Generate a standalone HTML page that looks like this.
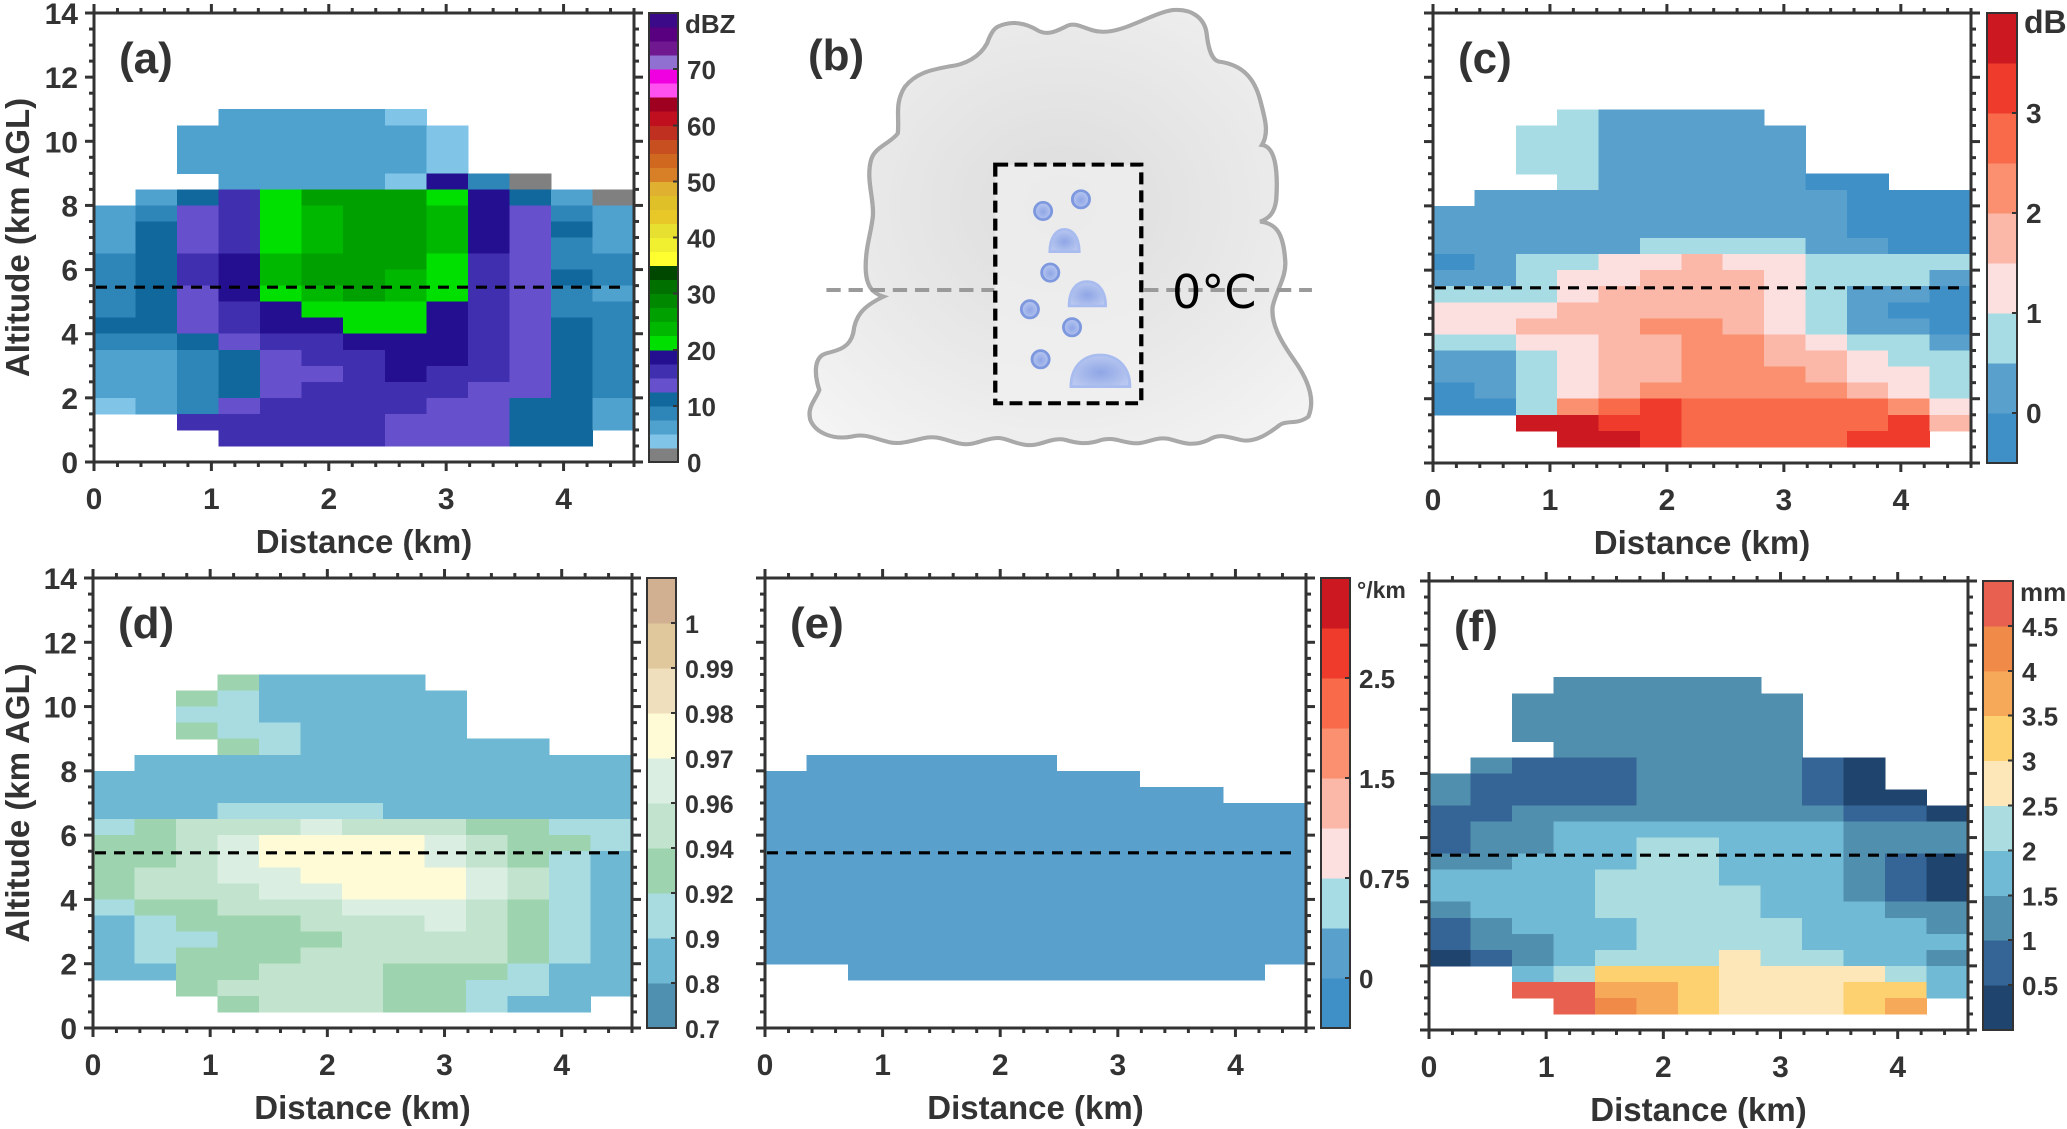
<!DOCTYPE html>
<html><head><meta charset="utf-8"><title>Radar panels</title>
<style>
html,body{margin:0;padding:0;background:#fff;}
svg{display:block;font-family:"Liberation Sans",Arial,sans-serif;}
</style></head>
<body>
<svg id="fig" xmlns="http://www.w3.org/2000/svg" width="2067" height="1129" viewBox="0 0 2067 1129">
<g id="panel-b">
  <defs>
    <radialGradient id="cloudGrad" cx="0.5" cy="0.45" r="0.75">
      <stop offset="0" stop-color="#dcdcdc"/>
      <stop offset="0.6" stop-color="#ebebeb"/>
      <stop offset="1" stop-color="#f6f6f6"/>
    </radialGradient>
    <radialGradient id="dropGrad" cx="0.5" cy="0.55" r="0.55">
      <stop offset="0" stop-color="#8fa6e6"/>
      <stop offset="1" stop-color="#b9c8f0"/>
    </radialGradient>
    <clipPath id="cloudClip"><path id="cloudPathClip" d=""/></clipPath>
  </defs>
  <g transform="translate(780,0) scale(0.357,0.3333)">
    <path id="cloudShape" d="M610,80 C650,60 690,70 720,90 C750,110 780,90 800,80 C830,60 860,95 900,95 C960,100 1040,40 1100,30 C1160,25 1190,60 1195,100 C1200,150 1210,180 1230,185 C1300,195 1330,240 1345,300 C1360,360 1370,400 1350,435 C1390,440 1395,520 1390,600 C1385,640 1370,655 1345,665 C1390,670 1410,700 1415,780 C1420,830 1390,870 1380,920 C1375,970 1400,1020 1440,1080 C1480,1140 1500,1200 1480,1250 C1450,1275 1420,1260 1400,1275 C1370,1300 1330,1330 1290,1320 C1250,1310 1230,1300 1200,1320 C1160,1340 1130,1330 1100,1320 C1060,1305 1030,1330 1000,1330 C960,1330 940,1310 900,1320 C860,1335 830,1330 800,1320 C760,1310 730,1340 690,1335 C650,1330 630,1310 600,1315 C560,1320 540,1340 500,1330 C460,1320 440,1305 400,1315 C360,1325 330,1335 300,1325 C260,1315 240,1300 200,1310 C150,1320 100,1300 85,1260 C75,1220 100,1200 110,1170 C95,1120 95,1070 130,1060 C170,1050 195,1040 205,1000 C210,950 230,920 290,890 C260,880 240,860 240,800 C240,740 255,700 260,650 C265,600 240,540 255,480 C265,440 310,430 330,400 C335,350 320,310 350,260 C380,220 420,210 470,200 C520,195 560,170 580,130 C590,100 600,85 610,80 Z" fill="url(#cloudGrad)" stroke="#a8a8a8" stroke-width="12"/>
    <use href="#cloudShape" fill="none" stroke="#d0d0d0" stroke-width="30" clip-path="url(#cloudClip)"/>
    <line x1="130" y1="870" x2="600" y2="870" stroke="#9a9a9a" stroke-width="12" stroke-dasharray="40 22"/>
    <line x1="1020" y1="870" x2="1490" y2="870" stroke="#9a9a9a" stroke-width="12" stroke-dasharray="40 22"/>
    <rect x="603" y="494" width="409" height="716" fill="#f1f1f1" fill-opacity="0.7" stroke="#000" stroke-width="12" stroke-dasharray="36 18"/>
    <g fill="url(#dropGrad)" stroke="#7d98de" stroke-width="8">
      <ellipse cx="737" cy="633" rx="24" ry="26"/>
      <ellipse cx="843" cy="598" rx="24" ry="26"/>
      <ellipse cx="757" cy="818" rx="24" ry="26"/>
      <ellipse cx="700" cy="928" rx="24" ry="26"/>
      <ellipse cx="818" cy="982" rx="24" ry="26"/>
      <ellipse cx="730" cy="1078" rx="24" ry="26"/>
      <path d="M756,755 C756,710 775,688 797,688 C819,688 838,710 838,755 Z" stroke="#a9bcef"/>
      <path d="M810,918 C810,868 832,845 860,845 C888,845 912,868 912,918 Z" stroke="#a9bcef"/>
      <path d="M815,1160 C815,1100 850,1065 897,1065 C944,1065 980,1100 980,1160 Z" stroke="#a9bcef"/>
    </g>
  </g>
  <text x="1172" y="308" font-size="46" fill="#000" font-family="'DejaVu Sans','Liberation Sans',sans-serif">0°C</text>
  <text x="808" y="70" font-size="44" font-weight="bold" fill="#333">(b)</text>
</g>
<g id="plots"></g>
</svg>
<script>
const n = null;
// row bottoms (km), from top row to bottom row; each row spans 0.5 km
const altitudes = [10.5,10,9.5,9,8.5,8,7.5,7,6.5,6,5.5,5,4.5,4,3.5,3,2.5,2,1.5,1,0.5];
const xTicks = [0,1,2,3,4];
const yTicks = [0,2,4,6,8,10,12,14];
const meltingLayerKm = 5.45;

// (a) reflectivity dBZ
const reflectivity = [
[n,n,n,6,6,6,6,4,n,n,n,n,n],
[n,n,6,6,6,6,6,6,4,n,n,n,n],
[n,n,6,6,6,6,6,6,4,n,n,n,n],
[n,n,6,6,6,6,6,6,4,n,n,n,n],
[n,n,n,6,6,6,6,4,19,9,1,n,n],
[n,6,11,16,21,26,26,26,21,19,11,6,1],
[6,9,14,16,21,24,26,26,24,19,14,9,6],
[6,11,14,16,21,24,26,26,24,19,14,11,6],
[6,11,14,16,21,24,26,26,24,19,14,9,6],
[9,11,16,19,24,26,26,26,21,16,14,9,9],
[9,11,16,19,24,26,26,24,21,16,14,11,9],
[9,11,14,19,21,24,26,24,21,16,14,9,6],
[9,11,14,16,19,21,21,21,19,16,14,9,9],
[11,11,14,16,19,19,21,21,19,16,14,11,9],
[9,9,11,14,16,16,19,19,19,16,14,11,9],
[6,6,9,11,14,16,16,19,19,16,14,11,9],
[6,6,9,11,14,14,16,19,16,16,14,11,9],
[6,6,9,11,14,16,16,16,16,14,14,11,9],
[4,6,9,14,16,16,16,16,14,14,11,11,6],
[n,n,16,16,16,16,16,14,14,14,11,11,6],
[n,n,n,16,16,16,16,14,14,14,11,11,n]];
const dbzEdges = [0,2.5,5,7.5,10,12.5,15,17.5,20,22.5,25,27.5,30,32.5,35,37.5,40,42.5,45,47.5,50,52.5,55,57.5,60,62.5,65,67.5,70,72.5,75,77.5,80];
const dbzColors = ['#808080','#80c4e8','#50a2ce','#2e86b8','#10689c','#6650cc','#4030b0','#230f90','#00e000','#00b800','#00a000','#008800','#007000','#004800','#ffff30','#f0f030','#e8e030','#e8c828','#e0c028','#e0b030','#d88028','#d06820','#c85020','#c03020','#c01020','#a00020','#ff50f0','#f000e0','#9070d0','#701890','#580080','#3a0a88'];
const dbzTickLabels = [0,10,20,30,40,50,60,70];

// (c) differential reflectivity dB
const zdr = [
[n,n,n,.75,.25,.25,.25,.25,n,n,n,n,n],
[n,n,.75,.75,.25,.25,.25,.25,.25,n,n,n,n],
[n,n,.75,.75,.25,.25,.25,.25,.25,n,n,n,n],
[n,n,.75,.75,.25,.25,.25,.25,.25,n,n,n,n],
[n,n,n,.75,.25,.25,.25,.25,.25,-.25,-.25,n,n],
[n,.25,.25,.25,.25,.25,.25,.25,.25,.25,-.25,-.25,-.25],
[.25,.25,.25,.25,.25,.25,.25,.25,.25,.25,-.25,-.25,-.25],
[.25,.25,.25,.25,.25,.25,.25,.25,.25,.25,-.25,-.25,-.25],
[.25,.25,.25,.25,.25,.75,.75,.75,.75,.25,.25,-.25,-.25],
[-.25,.25,.75,.75,1.25,1.25,1.75,1.25,1.25,.75,.75,.75,.75],
[.25,.25,.75,1.25,1.25,1.75,1.75,1.75,1.25,.75,.75,.75,.25],
[.75,.75,.75,1.25,1.75,1.75,1.75,1.75,1.25,.75,.25,.25,-.25],
[1.25,1.25,1.25,1.75,1.75,1.75,1.75,1.75,1.25,.75,.25,-.25,-.25],
[1.25,1.25,1.75,1.75,1.75,2.25,2.25,1.75,1.25,.75,.25,.25,-.25],
[.75,.75,1.25,1.25,1.75,1.75,2.25,2.25,1.75,1.25,.75,.75,.25],
[.25,.25,.75,1.25,1.75,1.75,2.25,2.25,1.75,1.75,1.25,.75,.75],
[.25,.25,.75,1.25,1.75,1.75,2.25,2.25,2.25,1.75,1.25,1.25,.75],
[-.25,.25,.75,1.25,1.75,2.25,2.25,2.25,2.25,2.25,1.75,1.25,.75],
[-.25,-.25,.75,2.25,2.75,3.25,2.75,2.75,2.75,2.75,2.75,2.25,1.25],
[n,n,3.75,3.75,3.25,3.25,2.75,2.75,2.75,2.75,2.75,3.25,1.75],
[n,n,n,3.75,3.75,3.25,2.75,2.75,2.75,2.75,3.25,3.25,n]];
const zdrEdges = [-0.5,0,0.5,1,1.5,2,2.5,3,3.5,4];
const divColors = ['#4090c8','#5aa0cc','#a8dce4','#fce0e0','#fbb8a8','#fa9070','#f86a4a','#ee3b2c','#cc1820'];
const zdrTickLabels = [0,1,2,3];

// (d) correlation coefficient
const rhohv = [
[n,n,n,.93,.85,.85,.85,.85,n,n,n,n,n],
[n,n,.93,.91,.85,.85,.85,.85,.85,n,n,n,n],
[n,n,.91,.91,.85,.85,.85,.85,.85,n,n,n,n],
[n,n,.93,.91,.91,.85,.85,.85,.85,n,n,n,n],
[n,n,n,.93,.91,.85,.85,.85,.85,.85,.85,n,n],
[n,.85,.85,.85,.85,.85,.85,.85,.85,.85,.85,.85,.85],
[.85,.85,.85,.85,.85,.85,.85,.85,.85,.85,.85,.85,.85],
[.85,.85,.85,.85,.85,.85,.85,.85,.85,.85,.85,.85,.85],
[.85,.85,.85,.91,.91,.91,.91,.85,.85,.85,.85,.85,.85],
[.91,.93,.95,.95,.95,.965,.95,.95,.95,.93,.93,.91,.91],
[.93,.93,.95,.965,.975,.975,.975,.975,.965,.95,.93,.93,.91],
[.93,.93,.95,.965,.975,.975,.975,.975,.965,.95,.93,.91,.85],
[.93,.95,.95,.965,.965,.975,.975,.975,.975,.965,.95,.91,.85],
[.93,.95,.95,.95,.965,.965,.975,.975,.975,.965,.95,.91,.85],
[.91,.93,.93,.95,.95,.95,.965,.965,.965,.95,.93,.91,.85],
[.85,.91,.93,.93,.93,.95,.95,.95,.965,.95,.93,.91,.85],
[.85,.91,.91,.93,.93,.93,.95,.95,.95,.95,.93,.91,.85],
[.85,.91,.93,.93,.93,.95,.95,.95,.95,.95,.93,.91,.85],
[.85,.85,.93,.93,.95,.95,.95,.93,.93,.93,.91,.85,.85],
[n,n,.93,.95,.95,.95,.95,.93,.93,.91,.91,.85,.85],
[n,n,n,.93,.95,.95,.95,.93,.93,.91,.85,.85,n]];
const rhoEdges = [0.7,0.8,0.9,0.92,0.94,0.96,0.97,0.98,0.99,1,1.01];
const rhoColors = ['#4f8faf','#6eb8d4','#a8dce0','#9dd3ae','#c2e4ce','#daeee2','#fffbd6','#f0dfbc','#e0c89c','#d0b090'];
const rhoTickLabels = [0.7,0.8,0.9,0.92,0.94,0.96,0.97,0.98,0.99,1];

// (e) specific differential phase deg/km
const kdp = [
[n,n,n,n,n,n,n,n,n,n,n,n,n],
[n,n,n,n,n,n,n,n,n,n,n,n,n],
[n,n,n,n,n,n,n,n,n,n,n,n,n],
[n,n,n,n,n,n,n,n,n,n,n,n,n],
[n,n,n,n,n,n,n,n,n,n,n,n,n],
[n,.2,.2,.2,.2,.2,.2,n,n,n,n,n,n],
[.2,.2,.2,.2,.2,.2,.2,.2,.2,n,n,n,n],
[.2,.2,.2,.2,.2,.2,.2,.2,.2,.2,.2,n,n],
[.2,.2,.2,.2,.2,.2,.2,.2,.2,.2,.2,.2,.2],
[.2,.2,.2,.2,.2,.2,.2,.2,.2,.2,.2,.2,.2],
[.2,.2,.2,.2,.2,.2,.2,.2,.2,.2,.2,.2,.2],
[.2,.2,.2,.2,.2,.2,.2,.2,.2,.2,.2,.2,.2],
[.2,.2,.2,.2,.2,.2,.2,.2,.2,.2,.2,.2,.2],
[.2,.2,.2,.2,.2,.2,.2,.2,.2,.2,.2,.2,.2],
[.2,.2,.2,.2,.2,.2,.2,.2,.2,.2,.2,.2,.2],
[.2,.2,.2,.2,.2,.2,.2,.2,.2,.2,.2,.2,.2],
[.2,.2,.2,.2,.2,.2,.2,.2,.2,.2,.2,.2,.2],
[.2,.2,.2,.2,.2,.2,.2,.2,.2,.2,.2,.2,.2],
[n,n,.2,.2,.2,.2,.2,.2,.2,.2,.2,.2,n],
[n,n,n,n,n,n,n,n,n,n,n,n,n],
[n,n,n,n,n,n,n,n,n,n,n,n,n]];
const kdpEdges = [-0.375,0,0.375,0.75,1.125,1.5,2,2.5,3,3.5];
const kdpTickLabels = [0,0.75,1.5,2.5];

// (f) median drop diameter mm
const dm = [
[n,n,n,1.25,1.25,1.25,1.25,1.25,n,n,n,n,n],
[n,n,1.25,1.25,1.25,1.25,1.25,1.25,1.25,n,n,n,n],
[n,n,1.25,1.25,1.25,1.25,1.25,1.25,1.25,n,n,n,n],
[n,n,1.25,1.25,1.25,1.25,1.25,1.25,1.25,n,n,n,n],
[n,n,n,1.25,1.25,1.25,1.25,1.25,1.25,n,n,n,n],
[n,1.25,.75,.75,.75,1.25,1.25,1.25,1.25,.75,.25,n,n],
[1.25,.75,.75,.75,.75,1.25,1.25,1.25,1.25,.75,.25,n,n],
[1.25,.75,.75,.75,.75,1.25,1.25,1.25,1.25,.75,.25,.25,n],
[.75,.75,1.25,1.25,1.25,1.25,1.25,1.25,1.25,1.25,.75,.75,.25],
[.75,1.25,1.25,1.75,1.75,1.75,1.75,1.75,1.75,1.75,1.25,1.25,1.25],
[.75,1.25,1.25,1.75,1.75,2.25,2.25,1.75,1.75,1.75,1.25,1.25,1.25],
[1.25,1.25,1.75,1.75,1.75,2.25,2.25,1.75,1.75,1.75,1.25,.75,.25],
[1.75,1.75,1.75,1.75,2.25,2.25,2.25,1.75,1.75,1.75,1.25,.75,.25],
[1.75,1.75,1.75,1.75,2.25,2.25,2.25,2.25,1.75,1.75,1.25,.75,.25],
[1.25,1.75,1.75,1.75,2.25,2.25,2.25,2.25,1.75,1.75,1.75,1.25,1.25],
[.75,1.25,1.75,1.75,1.75,2.25,2.25,2.25,2.25,1.75,1.75,1.75,1.25],
[.75,1.25,1.25,1.75,1.75,2.25,2.25,2.25,2.25,1.75,1.75,1.75,1.75],
[.25,.75,1.25,1.75,2.25,2.25,2.25,2.75,2.25,2.25,1.75,1.75,1.25],
[n,n,1.75,2.25,3.25,3.25,3.25,2.75,2.75,2.75,2.75,2.25,1.75],
[n,n,4.75,4.75,3.75,3.75,3.25,2.75,2.75,2.75,3.25,3.25,1.75],
[n,n,n,4.75,4.25,3.75,3.25,2.75,2.75,2.75,3.25,3.75,n]];
const dmEdges = [0,0.5,1,1.5,2,2.5,3,3.5,4,4.5,5];
const dmColors = ['#1f456e','#356597','#508fad','#70bad5','#aadce0','#fde6b8','#fdd070','#f7a95a','#f08a48','#e86050'];
const dmTickLabels = [0.5,1,1.5,2,2.5,3,3.5,4,4.5];

document.getElementById('cloudPathClip').setAttribute('d', document.getElementById('cloudShape').getAttribute('d'));

const NS = 'http://www.w3.org/2000/svg';
const XMAX = 4.6, YMAX = 14, NCOL = 13;
function mk(tag, attrs, parent){ const e=document.createElementNS(NS,tag); for(const k in attrs) e.setAttribute(k,attrs[k]); parent.appendChild(e); return e; }
function colorOf(v, edges, colors){ for(let i=0;i<colors.length;i++){ if(v>=edges[i] && v<edges[i+1]) return colors[i]; } return v<edges[0]?colors[0]:colors[colors.length-1]; }

function drawPanel(p){
  const root=document.getElementById('plots');
  const g=mk('g',{},root);
  
  
  const xs=d=>p.x0+d/XMAX*(p.x1-p.x0);
  const ys=h=>p.y1-h/YMAX*(p.y1-p.y0);
  const cw=XMAX/NCOL;
  const cells=mk('g',{'shape-rendering':'crispEdges'},g);
  
  
  p.grid.forEach((row,r)=>{
    const hb=altitudes[r];
    row.forEach((v,c)=>{
      if(v===null) return;
      const x=xs(c*cw), x2=xs((c+1)*cw), yt=ys(hb+0.5), yb=ys(hb);
      const rc=mk('rect',{x:x,y:yt,width:x2-x+0.6,height:yb-yt+0.6,fill:colorOf(v,p.edges,p.colors)},cells);
      
      
    });
  });
  const ml=mk('line',{x1:p.x0+2,x2:p.x1-10,y1:ys(meltingLayerKm),y2:ys(meltingLayerKm),stroke:'#000','stroke-width':3.2,'stroke-dasharray':'11 8'},g);
  
  
  const fr=mk('rect',{x:p.x0,y:p.y0,width:p.x1-p.x0,height:p.y1-p.y0,fill:'none',stroke:'#333','stroke-width':3},g);
  
  
  const tk=mk('g',{stroke:'#333','stroke-width':3},g);
  
  
  for(let i=0;i<=23;i++){ const d=i*0.2; if(d>XMAX+1e-6) break; const x=xs(d); const L=(i%5===0)?9:5;
    mk('line',{x1:x,x2:x,y1:p.y1,y2:p.y1+L},tk); mk('line',{x1:x,x2:x,y1:p.y0,y2:p.y0-L},tk); }
  for(let i=0;i<=28;i++){ const y=ys(i*0.5); const L=(i%4===0)?9:5;
    mk('line',{x1:p.x0,x2:p.x0-L,y1:y,y2:y},tk); mk('line',{x1:p.x1,x2:p.x1+L,y1:y,y2:y},tk); }
  xTicks.forEach(t=>{ const tx=mk('text',{x:xs(t),y:p.y1+47,'text-anchor':'middle','font-size':30,'font-weight':'bold',fill:'#333'},g); tx.textContent=t;
      });
  const xt=mk('text',{x:(p.x0+p.x1)/2,y:p.y1+91,'text-anchor':'middle','font-size':33,'font-weight':'bold',fill:'#333'},g); xt.textContent='Distance (km)';
   
  if(p.yLabels){
    yTicks.forEach(t=>{ const ty=mk('text',{x:p.x0-16,y:ys(t)+11,'text-anchor':'end','font-size':30,'font-weight':'bold',fill:'#333'},g); ty.textContent=t;
        });
    const yc=(p.y0+p.y1)/2;
    const yt=mk('text',{x:0,y:0,transform:'translate(29,'+yc+') rotate(-90)','text-anchor':'middle','font-size':33,'font-weight':'bold',fill:'#333'},g); yt.textContent='Altitude (km AGL)';
     
  }
  const lb=mk('text',{x:p.x0+25,y:p.y0+60,'font-size':44,'font-weight':'bold',fill:'#333'},g); lb.textContent='('+p.id+')';
   
  const cb=mk('g',{'shape-rendering':'crispEdges'},g);
  
  
  const nb=p.colors.length, bh=(p.cy1-p.cy0)/nb;
  p.colors.forEach((col,i)=>{ const r=mk('rect',{x:p.cx0,y:p.cy1-(i+1)*bh,width:p.cx1-p.cx0,height:bh+0.5,fill:col},cb);
      });
  mk('rect',{x:p.cx0,y:p.cy0,width:p.cx1-p.cx0,height:p.cy1-p.cy0,fill:'none',stroke:'#333','stroke-width':2},cb);
  p.tickLabels.forEach(v=>{
    let k=0; p.edges.forEach((e,i)=>{ if(Math.abs(e-v)<1e-9) k=i; });
    const y=p.cy1-k*bh;
    mk('line',{x1:p.cx1-5,x2:p.cx1,y1:y,y2:y,stroke:'#333','stroke-width':2},cb);
    const t=mk('text',{x:p.cx1+9,y:y+10,'font-size':p.cbFont||28,'font-weight':'bold',fill:'#333'},g); t.textContent=v;
     
  });
  if(p.unit){ const u=mk('text',{x:p.cx1+7,y:p.cy0+20,'font-size':p.unitFont||26,'font-weight':'bold',fill:'#333'},g); u.textContent=p.unit;
      }
}

drawPanel({id:'a',x0:94,x1:634,y0:13,y1:462,grid:reflectivity,edges:dbzEdges,colors:dbzColors,tickLabels:dbzTickLabels,unit:'dBZ',yLabels:true,cx0:649,cx1:678,cy0:13,cy1:462,cbFont:26,unitFont:26});
drawPanel({id:'c',x0:1433,x1:1971,y0:13,y1:463,grid:zdr,edges:zdrEdges,colors:divColors,tickLabels:zdrTickLabels,unit:'dB',yLabels:false,cx0:1987,cx1:2017,cy0:13,cy1:463,unitFont:32});
drawPanel({id:'d',x0:93,x1:632,y0:578,y1:1028,grid:rhohv,edges:rhoEdges,colors:rhoColors,tickLabels:rhoTickLabels,unit:'',yLabels:true,cx0:647,cx1:676,cy0:578,cy1:1028,cbFont:25});
drawPanel({id:'e',x0:765,x1:1306,y0:578,y1:1028,grid:kdp,edges:kdpEdges,colors:divColors,tickLabels:kdpTickLabels,unit:'°/km',yLabels:false,cx0:1321,cx1:1350,cy0:578,cy1:1028,cbFont:26,unitFont:23});
drawPanel({id:'f',x0:1429,x1:1968,y0:581,y1:1030,grid:dm,edges:dmEdges,colors:dmColors,tickLabels:dmTickLabels,unit:'mm',yLabels:false,cx0:1983,cx1:2013,cy0:581,cy1:1030,cbFont:26,unitFont:26});
</script>
</body></html>
